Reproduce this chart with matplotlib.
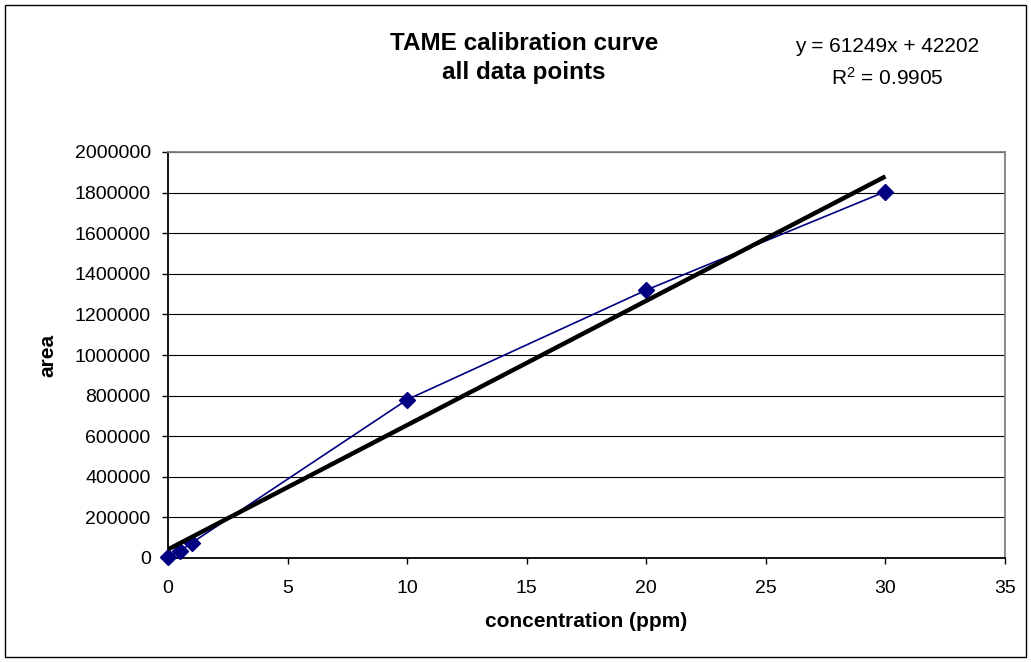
import matplotlib
matplotlib.use("Agg")
import matplotlib.pyplot as plt
import numpy as np

plt.rcParams['font.family'] = ['Liberation Sans', 'DejaVu Sans']
plt.rcParams['mathtext.fontset'] = 'custom'
plt.rcParams['mathtext.rm'] = 'Liberation Sans'
plt.rcParams['mathtext.it'] = 'Liberation Sans:italic'
plt.rcParams['mathtext.bf'] = 'Liberation Sans:bold'

conc = [0, 0.5, 1, 10, 20, 30]
area = [5000, 35000, 75000, 780000, 1320000, 1805000]
slope = 61249
intercept = 42202
r2 = 0.9905
x_ticks = [0, 5, 10, 15, 20, 25, 30, 35]
y_ticks = [0, 200000, 400000, 600000, 800000, 1000000, 1200000, 1400000, 1600000, 1800000, 2000000]

W, H = 1031, 662
L, R, T, B = 168, 1005, 152, 558
fig = plt.figure(figsize=(W/100, H/100), dpi=100)
ax = fig.add_axes([L/W, 1-B/H, (R-L)/W, (B-T)/H])

for y in y_ticks[1:]:
    ax.axhline(y, color='black', lw=0.8, zorder=1)

ax.plot(conc, area, color='#000080', lw=1.2, marker='D', markersize=8.5, zorder=3, clip_on=False)
xt = np.array([0, 30])
ax.plot(xt, slope*xt + intercept, color='black', lw=3.2, zorder=4, solid_capstyle='butt')

ax.set_xlim(0, 35)
ax.set_ylim(0, 2000000)
ax.set_xticks(x_ticks)
ax.set_yticks(y_ticks)
ax.set_yticklabels([str(v) for v in y_ticks])
ax.tick_params(labelsize=14, direction='out', length=4.5, width=1, colors='black')
ax.tick_params(axis='x', pad=11)
ax.tick_params(axis='y', pad=8)
ax.spines['top'].set_color('#808080')
ax.spines['right'].set_color('#808080')
ax.spines['left'].set_color('black')
ax.spines['bottom'].set_color('black')
for s in ax.spines.values():
    s.set_linewidth(1.3)

ax.set_xlabel('concentration (ppm)', fontsize=15, fontweight='bold')
ax.set_ylabel('area', fontsize=15, fontweight='bold')
ax.xaxis.set_label_coords(0.5, (B-612)/(B-T))
ax.yaxis.set_label_coords((57-L)/(R-L), 0.5)

fig.text(524/W, 1-43/H, 'TAME calibration curve', ha='center', va='center', fontsize=17.5, fontweight='bold')
fig.text(524/W, 1-73/H, 'all data points', ha='center', va='center', fontsize=17.5, fontweight='bold')
fig.text(887/W, 1-47/H, 'y = 61249x + 42202', ha='center', va='center', fontsize=15)
fig.text(887/W, 1-78/H, 'R$^2$ = 0.9905', ha='center', va='center', fontsize=15)

fig.patches.append(plt.Rectangle((5/W, 5/H), (1026-5)/W, (657-5)/H, transform=fig.transFigure,
                                 fill=False, edgecolor='black', lw=1))

fig.savefig('out.png', dpi=100)
